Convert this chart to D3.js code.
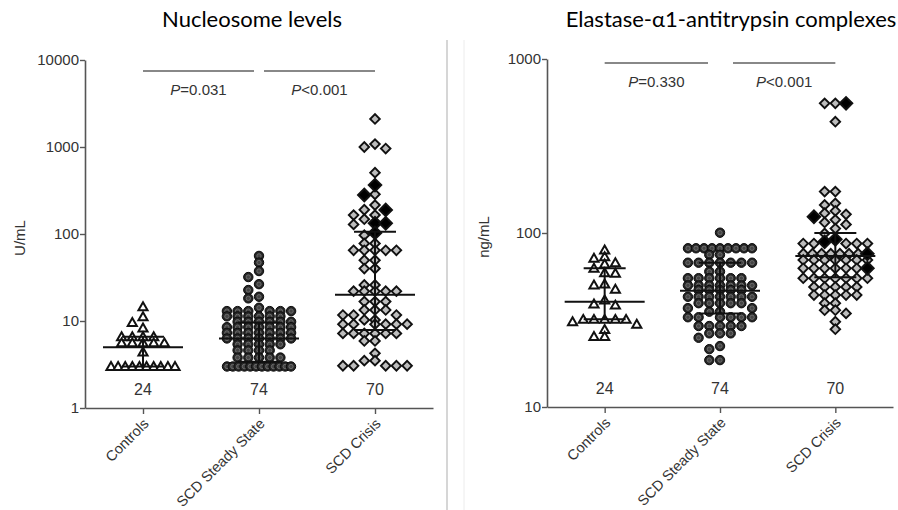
<!DOCTYPE html>
<html><head><meta charset="utf-8">
<script src="https://cdn.jsdelivr.net/npm/d3@7"></script>
<style>
body{margin:0;background:#fff}
text{font-family:"Liberation Sans",Arial,sans-serif;fill:#333}
.title{font-family:Lato,"Open Sans",sans-serif;fill:#000}
</style>
</head><body>
<svg id="c" width="898" height="510"></svg>
<script>
// ---------- DATA ----------
const categories = ["Controls", "SCD Steady State", "SCD Crisis"];
const counts = ["24", "74", "70"];

// Panel A: Nucleosome levels (U/mL)
const nucTicks = [1, 10, 100, 1000, 10000];
const nucControls = [14.6, 11.2, 9.6, 8.3, 6.6, 6.6, 6.6, 6.6, 5.6, 5.6, 5.6, 5.6, 5.6, 4.4,
  3, 3, 3, 3, 3, 3, 3, 3, 3, 3];
const nucSteady = [56, 47, 37.5, 32, 26.5, 22.7, 19, 18.2, 14.2,
  13, 13, 13, 13, 13, 13,
  11.3, 11.3, 11.3, 11.3, 11.3, 11.3,
  9.8, 9.8, 9.8, 9.8, 9.8, 9.8,
  8.5, 8.5, 8.5, 8.5, 8.5, 8.5, 8.5,
  7.3, 7.3, 7.3, 7.3, 7.3, 7.3, 7.3,
  6.3, 6.3, 6.3, 6.3, 6.3, 6.3, 6.3,
  5.4, 5.4, 5.4, 5.4, 5.4,
  4.6, 4.6, 4.6, 4.6,
  3.8, 3.8, 3.8, 3.8, 3.8,
  3, 3, 3, 3, 3, 3, 3, 3, 3, 3, 3, 3];
const nucCrisis = [2100, 1080, 1000, 960, 507, 286, 215, 190, 165, 165, 148, 129, 97,
  78, 78, 65, 65, 65, 65, 65, 50, 50, 40, 40, 26, 26, 22, 22, 22, 22, 22,
  16.7, 16.7, 16.7, 13.4, 13.4, 13.4, 11.7, 11.7, 11.7, 10.3, 10.3,
  9.2, 9.2, 9.2, 9.2, 9.2, 9.2, 7.2, 7.2, 7.2, 7.2, 7.2, 7.2,
  5.9, 5.9, 4.25, 3.5, 3.5, 3.06, 3.06, 3.06, 3.06, 3.06];
const nucCrisisHighlighted = [365, 281, 189, 133, 133, 103];
const nucMedian = [5, 6.3, 20];
const nucQ1 = [3, 3.4, 7.9];
const nucQ3 = [6.6, 9.6, 106];
const nucP = ["=0.031", "<0.001"];

// Panel B: Elastase-α1-antitrypsin complexes (ng/mL)
const elaTicks = [10, 100, 1000];
const elaControls = [79.9, 73, 71.6, 67.5, 66.3, 62.7, 59.1, 58.7, 50.9, 50.2, 47.5,
  41.2, 39.1, 38.5, 31.9, 31.9, 31.9, 31.9, 31.9, 30.9, 29.9, 27.9, 25.4, 25.4];
const elaSteady = [100.4,
  81.7, 81.7, 81.7, 81.7, 81.7, 81.7, 81.7, 81.7, 81.7,
  75, 75,
  67.5, 67.5, 67.5, 67.5, 67.5, 67.5, 67.5,
  60, 60,
  55, 55, 55, 55, 55, 55,
  50, 50, 50, 50, 50, 50, 50,
  47, 47, 47, 47, 47,
  43, 43, 43, 43, 43, 43, 43,
  39.5, 39.5, 39.5, 39.5, 39.5,
  37, 37, 35.3, 35.3,
  32.8, 32.8, 32.8, 32.8, 32.8, 32.8,
  29.2, 29.2, 29.2, 29.2, 29.2,
  26.5, 26.5, 26.5, 25, 22.4, 21.5, 18.6, 18.6];
const elaCrisis = [556, 556, 436, 173, 173, 148, 145, 134, 130, 128, 119, 115, 112, 106, 99.5,
  87, 87, 87, 87, 87, 76, 76, 76, 76, 76, 76, 76,
  70, 70, 70, 70, 70, 70, 70, 62.7, 62.7, 62.7, 62.7, 62.7, 62.7,
  55, 55, 55, 55, 55, 55, 55, 49, 49, 49, 49, 49, 44, 44, 44, 44, 44,
  39.5, 39.5, 36, 36, 34.5, 30.9, 28];
const elaCrisisHighlighted = [556, 124, 92, 89, 76, 62.7];
const elaMedian = [40.3, 46.6, 73.8];
const elaQ1 = [31.9, 34.5, 55.6];
const elaQ3 = [62.7, 67.5, 100];
const elaP = ["=0.330", "<0.001"];

// ---------- DRAWING ----------
const svg = d3.select("#c");
const shapes = ["triangle", "circle", "diamond"];

// panel separators (image edges in the reference)
svg.append("line").attr("x1", 447).attr("x2", 447).attr("y1", 40).attr("y2", 510)
  .attr("stroke", "#c8c8c8").attr("stroke-width", 1.5);
svg.append("line").attr("x1", 464).attr("x2", 464).attr("y1", 40).attr("y2", 510)
  .attr("stroke", "#ececec").attr("stroke-width", 1);

// column-scatter layout: discrete slots around the centre, spreading points that would overlap
function layoutGroup(points, y, cx) {
  const step = 10.7, maxW = 64, thr = 6;
  const slots = [0, -1, 1, -2, 2, -3, 3];
  const sorted = points.slice().sort((a, b) => d3.descending(a.v, b.v) || (a.hl - b.hl));
  sorted.forEach(p => { p.y = y(p.v); p.placed = false; });
  const placed = [];
  // wide rows of identical values are compressed to the column width
  d3.groups(sorted, p => p.v).forEach(([v, items]) => {
    if (items.length > slots.length) {
      const n = items.length, sp = Math.min(step, maxW / (n - 1));
      items.forEach((p, i) => { p.x = cx + (i - (n - 1) / 2) * sp; p.placed = true; placed.push(p); });
    }
  });
  sorted.forEach(p => {
    if (p.placed) return;
    let best = null, bestD = -1;
    for (const s of slots) {
      const sx = cx + s * step;
      let md = Infinity;
      placed.forEach(q => { if (Math.abs(q.x - sx) < step * 0.75) md = Math.min(md, Math.abs(q.y - p.y)); });
      if (md >= thr) { best = sx; bestD = md; break; }
      if (md > bestD) { bestD = md; best = sx; }
    }
    p.x = best; p.placed = true; placed.push(p);
  });
  return sorted;
}

function drawPanel(cfg) {
  const g = svg.append("g");
  const x = d3.scalePoint(categories, [cfg.x0, cfg.x1]).padding(0.5);
  const y = d3.scaleLog().domain(cfg.domain).range([cfg.yBottom, cfg.yTop]);

  // axes
  const ya = g.append("g").attr("transform", `translate(${cfg.x0},0)`)
    .call(d3.axisLeft(y).tickValues(cfg.ticks).tickFormat(d3.format("d")).tickSize(5).tickSizeOuter(0));
  const xa = g.append("g").attr("transform", `translate(0,${cfg.yBottom})`)
    .call(d3.axisBottom(x).tickSize(6).tickSizeOuter(0).tickFormat(""));
  [ya, xa].forEach(a => {
    a.select(".domain").attr("stroke", "#555").attr("stroke-width", 1.6);
    a.selectAll(".tick line").attr("stroke", "#555").attr("stroke-width", 1.4);
  });
  ya.selectAll(".tick text").style("font-size", "15px").attr("fill", "#333")
    .style("font-family", '"Liberation Sans",Arial,sans-serif').attr("x", -6);

  // category labels
  categories.forEach(c => {
    g.append("text")
      .attr("transform", `translate(${x(c) + 3},${cfg.yBottom + 13}) rotate(-45)`)
      .attr("text-anchor", "end").attr("dy", "0.35em")
      .style("font-size", "14.5px").text(c);
  });

  // y label
  g.append("text").attr("transform", `translate(${cfg.ylabX},${(cfg.yTop + cfg.yBottom) / 2 + 4}) rotate(-90)`)
    .attr("text-anchor", "middle").attr("dy", "0.35em").style("font-size", "15px").text(cfg.ylabel);

  // title
  g.append("text").attr("class", "title").attr("x", cfg.titleX).attr("y", 27)
    .attr("text-anchor", "middle").style("font-size", "22px").text(cfg.title);

  // counts
  counts.forEach((n, i) => {
    g.append("text").attr("x", x(categories[i])).attr("y", cfg.countY)
      .attr("text-anchor", "middle").style("font-size", "16px").text(n);
  });

  // P-value bars
  const bars = [[x(categories[0]), x(categories[1]) - cfg.gapL],
                [x(categories[1]) + cfg.gapR, x(categories[2])]];
  bars.forEach((b, i) => {
    g.append("line").attr("x1", b[0]).attr("x2", b[1]).attr("y1", cfg.pBarY).attr("y2", cfg.pBarY)
      .attr("stroke", "#888").attr("stroke-width", 2);
    const t = g.append("text").attr("x", (b[0] + b[1]) / 2).attr("y", cfg.pBarY + 24)
      .attr("text-anchor", "middle").style("font-size", "15px");
    t.append("tspan").style("font-style", "italic").text("P");
    t.append("tspan").text(cfg.p[i]);
  });

  // points
  cfg.groups.forEach((grp, gi) => {
    const cx = x(categories[gi]);
    const pts = grp.values.map(v => ({v, hl: 0}))
      .concat((grp.highlighted || []).map(v => ({v, hl: 1})));
    const placed = layoutGroup(pts, y, cx);
    placed.sort((a, b) => a.hl - b.hl);
    const shape = shapes[gi];
    placed.forEach(p => {
      if (shape === "triangle") {
        g.append("path").attr("d", d3.symbol(d3.symbolTriangle, 36)())
          .attr("transform", `translate(${p.x},${p.y + 0.8})`)
          .attr("fill", "#fff").attr("stroke", "#111").attr("stroke-width", 2);
      } else if (shape === "circle") {
        g.append("circle").attr("cx", p.x).attr("cy", p.y).attr("r", 4.7)
          .attr("fill", "#262626").attr("stroke", "#0a0a0a").attr("stroke-width", 1);
        g.append("circle").attr("cx", p.x).attr("cy", p.y).attr("r", 2.2)
          .attr("fill", "#444").attr("stroke", "#777").attr("stroke-width", 0.8);
      } else {
        const size = p.hl ? 80 : 46;
        g.append("path").attr("d", d3.symbol(d3.symbolSquare, size)())
          .attr("transform", `translate(${p.x},${p.y}) rotate(45)`)
          .attr("fill", p.hl ? "#000" : "#bdbdbd").attr("stroke", "#111").attr("stroke-width", 1.9);
      }
    });
  });

  // median + IQR
  categories.forEach((c, i) => {
    const cx = x(c);
    const lines = [
      [cx, cx, y(cfg.q1[i]), y(cfg.q3[i])],
      [cx - 40, cx + 40, y(cfg.median[i]), y(cfg.median[i])],
      [cx - 21, cx + 21, y(cfg.q1[i]), y(cfg.q1[i])],
      [cx - 21, cx + 21, y(cfg.q3[i]), y(cfg.q3[i])]
    ];
    lines.forEach(l => g.append("line").attr("x1", l[0]).attr("x2", l[1]).attr("y1", l[2]).attr("y2", l[3])
      .attr("stroke", "#111").attr("stroke-width", 2));
  });
}

drawPanel({
  x0: 85, x1: 433, yTop: 60, yBottom: 408, domain: [1, 10000], ticks: nucTicks,
  ylabel: "U/mL", ylabX: 20, title: "Nucleosome levels", titleX: 252,
  countY: 395, pBarY: 71, gapL: 5, gapR: 5, p: nucP,
  median: nucMedian, q1: nucQ1, q3: nucQ3,
  groups: [{values: nucControls}, {values: nucSteady}, {values: nucCrisis, highlighted: nucCrisisHighlighted}]
});
drawPanel({
  x0: 547, x1: 893, yTop: 59, yBottom: 407, domain: [10, 1000], ticks: elaTicks,
  ylabel: "ng/mL", ylabX: 484, title: "Elastase-\u03b11-antitrypsin complexes", titleX: 731,
  countY: 394, pBarY: 63, gapL: 12, gapR: 13, p: elaP,
  median: elaMedian, q1: elaQ1, q3: elaQ3,
  groups: [{values: elaControls}, {values: elaSteady}, {values: elaCrisis, highlighted: elaCrisisHighlighted}]
});
</script>
</body></html>
